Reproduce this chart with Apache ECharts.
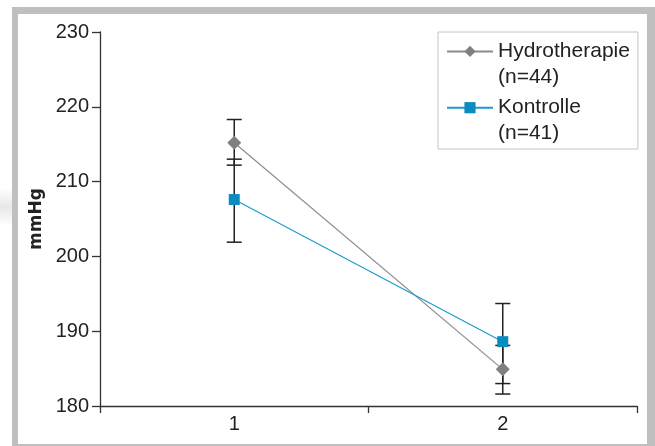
<!DOCTYPE html>
<html>
<head>
<meta charset="utf-8">
<script src="https://cdn.jsdelivr.net/npm/echarts@6/dist/echarts.min.js"></script>
<style>
html,body{margin:0;padding:0;background:#fff;}
#chart{width:655px;height:446px;}
</style>
</head>
<body>
<div id="chart"></div>
<script>
// ---- data ----
const categories = ['1', '2'];
const groupNames = ['Hydrotherapie', 'Kontrolle'];
const groupN = ['(n=44)', '(n=41)'];
const hydroMean  = [215.2, 184.9];
const hydroUpper = [218.3, 188.1];
const hydroLower = [212.2, 181.6];
const kontrMean  = [207.6, 188.6];
const kontrUpper = [213.0, 193.7];
const kontrLower = [201.9, 183.0];
const yMin = 180, yMax = 230, yStep = 10;
const yName = 'mmHg';

const chart = echarts.init(document.getElementById('chart'), null, {renderer: 'canvas'});

function errData(lower, upper) {
  return categories.map((c, i) => [i, lower[i], upper[i]]);
}
function errRender(params, api) {
  const x = api.value(0);
  const pLo = api.coord([x, api.value(1)]);
  const pHi = api.coord([x, api.value(2)]);
  const w = 7.5;
  const st = {stroke: '#222', lineWidth: 1.5};
  return {
    type: 'group',
    children: [
      {type: 'line', shape: {x1: pHi[0], y1: pHi[1], x2: pLo[0], y2: pLo[1]}, style: st},
      {type: 'line', shape: {x1: pHi[0] - w, y1: pHi[1], x2: pHi[0] + w, y2: pHi[1]}, style: st},
      {type: 'line', shape: {x1: pLo[0] - w, y1: pLo[1], x2: pLo[0] + w, y2: pLo[1]}, style: st}
    ]
  };
}

const font = 'Liberation Sans, Arial, sans-serif';

const option = {
  animation: false,
  backgroundColor: '#fff',
  graphic: [
    {type: 'rect', z: -10, shape: {x: 12, y: 7, width: 643, height: 439}, style: {fill: '#bdbfc1'}},
    {type: 'rect', z: -9, shape: {x: 18, y: 14, width: 629, height: 430}, style: {fill: '#fff'}},
    {type: 'rect', z: -9, shape: {x: 0, y: 188, width: 12, height: 38},
      style: {fill: new echarts.graphic.LinearGradient(0, 0, 0, 1, [
        {offset: 0, color: 'rgba(232,232,232,0)'},
        {offset: 0.5, color: 'rgba(232,232,232,1)'},
        {offset: 1, color: 'rgba(232,232,232,0)'}])}}
  ],
  grid: {left: 100, right: 18, top: 32, bottom: 40, containLabel: false},
  legend: {
    data: groupNames,
    orient: 'vertical',
    left: 438,
    top: 32,
    padding: [-19.6, 8, 2.3, 8],
    itemGap: -21.7,
    itemWidth: 46,
    itemHeight: 14,
    borderColor: '#c4c4c4',
    borderWidth: 1,
    backgroundColor: '#fff',
    formatter: function (name) {
      const i = groupNames.indexOf(name);
      return '\n' + name + '\n' + groupN[i];
    },
    textStyle: {fontFamily: font, fontSize: 21, lineHeight: 26, color: '#222'}
  },
  xAxis: {
    type: 'category',
    data: categories,
    boundaryGap: true,
    axisLine: {lineStyle: {color: '#333', width: 1.3}},
    axisTick: {show: true, length: 7, lineStyle: {color: '#333', width: 1.3}},
    axisLabel: {margin: 8, fontFamily: font, fontSize: 20, color: '#222'},
    splitLine: {show: false}
  },
  yAxis: {
    type: 'value',
    min: yMin, max: yMax, interval: yStep,
    name: yName,
    nameLocation: 'middle',
    nameGap: 54,
    nameTextStyle: {fontFamily: 'DejaVu Sans, sans-serif', fontWeight: 'bold', fontSize: 17, color: '#222'},
    axisLine: {show: true, lineStyle: {color: '#333', width: 1.3}},
    axisTick: {show: true, length: 8, lineStyle: {color: '#333', width: 1.3}},
    axisLabel: {margin: 11, fontFamily: font, fontSize: 20, color: '#222'},
    splitLine: {show: false}
  },
  series: [
    {
      type: 'custom', name: 'errH', renderItem: errRender, data: errData(hydroLower, hydroUpper),
      z: 1, silent: true, encode: {x: 0, y: [1, 2]}
    },
    {
      type: 'custom', name: 'errK', renderItem: errRender, data: errData(kontrLower, kontrUpper),
      z: 1, silent: true, encode: {x: 0, y: [1, 2]}
    },
    {
      name: groupNames[0], type: 'line', data: hydroMean,
      symbol: 'diamond', symbolSize: 14,
      lineStyle: {color: '#8c8c8e', width: 1.2},
      itemStyle: {color: '#808084'},
      z: 3
    },
    {
      name: groupNames[1], type: 'line', data: kontrMean,
      symbol: 'rect', symbolSize: 11,
      lineStyle: {color: '#1d9bd0', width: 1.2},
      itemStyle: {color: '#0a8cc0'},
      z: 4
    }
  ]
};
chart.setOption(option);
</script>
</body>
</html>
